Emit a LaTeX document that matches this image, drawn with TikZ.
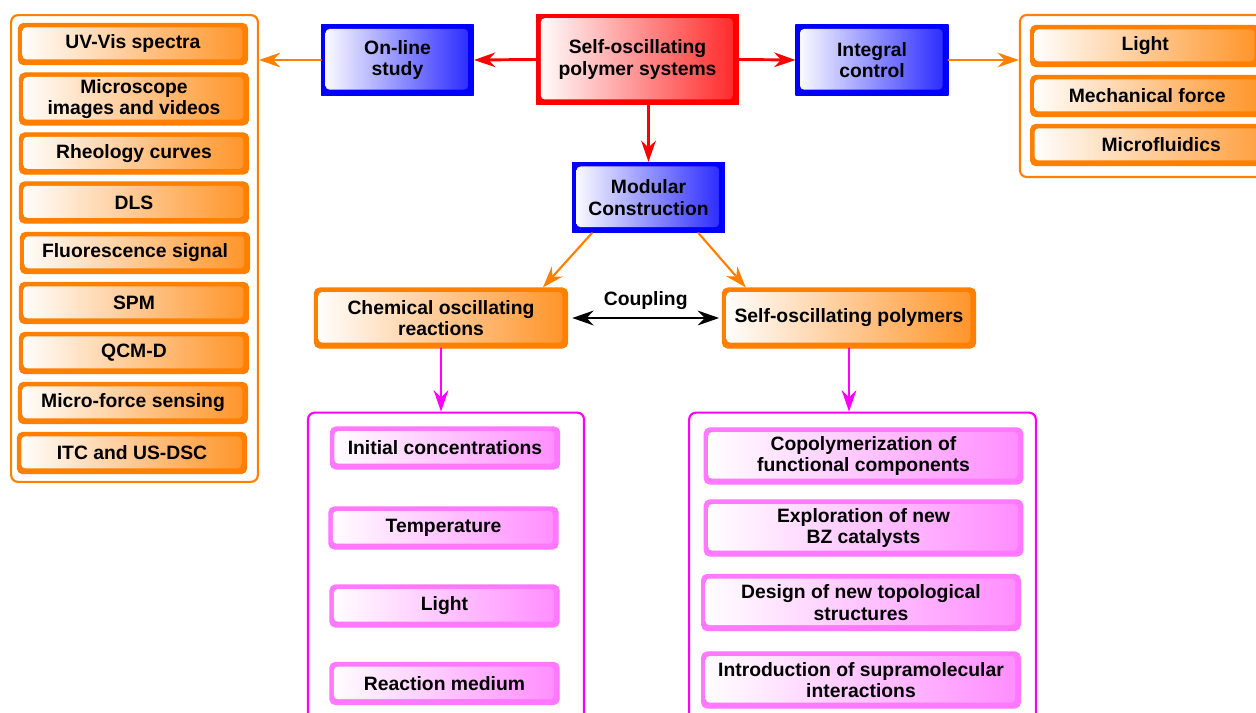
\documentclass[tikz,border=0pt]{standalone}
\usepackage{fontspec}
\setmainfont{Liberation Sans}
\usetikzlibrary{arrows.meta}
\definecolor{myorange}{RGB}{255,128,0}
\definecolor{myblue}{RGB}{0,0,255}
\definecolor{myred}{RGB}{255,0,0}
\definecolor{mymagenta}{RGB}{255,0,255}
\definecolor{mypink}{RGB}{255,120,255}
\tikzset{
	bevel/.style={draw=#1, fill=#1, line width=0.8pt, align=center,
		font=\bfseries\fontsize{14.5}{16}\selectfont,
		path picture={\fill[rounded corners=3pt, left color=white, right color=#1!85]
			([shift={(3pt,-3pt)}]path picture bounding box.north west) rectangle
			([shift={(-4pt,4pt)}]path picture bounding box.south east);}},
	orangebox/.style={bevel=myorange, rounded corners=4pt, minimum width=172pt, minimum height=31pt},
	pinkbox/.style={bevel=mypink, rounded corners=4pt, minimum height=31.5pt},
	bluebox/.style={bevel=myblue, minimum width=114pt, minimum height=52.5pt},
	frame/.style={draw=#1, line width=1.6pt, rounded corners=5pt, fill=white},
	arr/.style={-{Stealth[length=16pt,width=11pt,line join=miter]}},
	darr/.style={{Stealth[length=16pt,width=11pt,line join=miter]}-{Stealth[length=16pt,width=11pt,line join=miter]}}
}
\begin{document}
\begin{tikzpicture}[
		x=0.75pt, y=-0.75pt,
		line cap=round,
		line join=round
		]
		\useasboundingbox (0,0) rectangle (1256,713);
		\fill[white] (0,0) rectangle (1256,713);
		\clip (0,0) rectangle (1256,713);
		% frames
		\node[frame=myorange, minimum width=185pt, minimum height=350pt] (leftframe) at (134.5,248.5) {};
		\node[frame=myorange, minimum width=195pt, minimum height=121.5pt] (rightframe) at (1150,96) {};
		\node[frame=mymagenta, minimum width=207pt, minimum height=245pt] (chemframe) at (446,576) {};
		\node[frame=mymagenta, minimum width=260pt, minimum height=245pt] (polyframe) at (862.5,576) {};
		% left column
		\node[orangebox] (uvvis) at (133,44) {UV-Vis spectra};
		\node[orangebox, minimum height=39pt] (micro) at (134,99) {Microscope\\images and videos};
		\node[orangebox] (rheo) at (134,153.5) {Rheology curves};
		\node[orangebox] (dls) at (134,202.5) {DLS};
		\node[orangebox] (fluo) at (135,253) {Fluorescence signal};
		\node[orangebox] (spm) at (134,303) {SPM};
		\node[orangebox] (qcm) at (134,353) {QCM-D};
		\node[orangebox] (force) at (133,403) {Micro-force sensing};
		\node[orangebox] (itc) at (132,453) {ITC and US-DSC};
		% top row
		\node[bluebox] (online) at (397.5,60) {On-line\\study};
		\node[bevel=myred, minimum width=151pt, minimum height=68pt] (system) at (637.5,59.5) {Self-oscillating\\polymer systems};
		\node[bluebox] (integral) at (872,60) {Integral\\control};
		\node[bluebox] (modular) at (648.5,197.5) {Modular\\Construction};
		% right column
		\node[orangebox, anchor=west, minimum width=172pt] (light) at (1030,46) {Light};
		\node[orangebox, anchor=west, minimum width=175pt] (mech) at (1030,96) {Mechanical force};
		\node[orangebox, anchor=west, minimum width=196pt] (fluidics) at (1030,145) {Microfluidics};
		% middle row
		\node[orangebox, minimum width=190pt, minimum height=45pt] (chem) at (441,318) {Chemical oscillating\\reactions};
		\node[orangebox, minimum width=190pt, minimum height=45pt] (poly) at (849,318) {Self-oscillating polymers};
		% bottom left
		\node[pinkbox, minimum width=172pt] (conc) at (445,448) {Initial concentrations};
		\node[pinkbox, minimum width=172pt] (temp) at (443.5,528) {Temperature};
		\node[pinkbox, minimum width=172pt] (lightb) at (444.5,606) {Light};
		\node[pinkbox, minimum width=172pt] (medium) at (444.5,683.5) {Reaction medium};
		% bottom right
		\node[pinkbox, minimum width=239pt, minimum height=42pt] (copo) at (863.5,456) {Copolymerization of\\functional components};
		\node[pinkbox, minimum width=239pt, minimum height=42pt] (bz) at (863.5,528) {Exploration of new\\BZ catalysts};
		\node[pinkbox, minimum width=239pt, minimum height=42pt] (topo) at (861,602.5) {Design of new topological\\structures};
		\node[pinkbox, minimum width=239pt, minimum height=42pt] (supra) at (861,680) {Introduction of supramolecular\\interactions};
		% connectors
		\begin{scope}[arr, myred, line width=2.2pt]
		\draw (system.west) -- (online.east);
		\draw (system.east) -- (integral.west);
		\draw (system.south -| modular.north) -- (modular.north);
		\end{scope}
		\begin{scope}[arr, myorange, line width=1.6pt]
		\draw (online.west) -- (online.west -| leftframe.east);
		\draw (integral.east) -- (integral.east -| rightframe.west);
		\draw ([xshift=15pt]modular.south west) -- ([xshift=-19pt]chem.north east);
		\draw ([xshift=-20pt]modular.south east) -- ([xshift=18pt]poly.north west);
		\end{scope}
		\draw[darr, line width=2.2pt] ([xshift=3pt]chem.east) -- ([xshift=-2pt]poly.west)
			node[midway, above=2pt, font=\bfseries\fontsize{14.5}{16}\selectfont] (coupling) {Coupling};
		\begin{scope}[arr, mymagenta, line width=1.8pt]
		\draw (chem.south) -- (chem.south |- chemframe.north);
		\draw (poly.south) -- (poly.south |- polyframe.north);
		\end{scope}
\end{tikzpicture}
\end{document}
